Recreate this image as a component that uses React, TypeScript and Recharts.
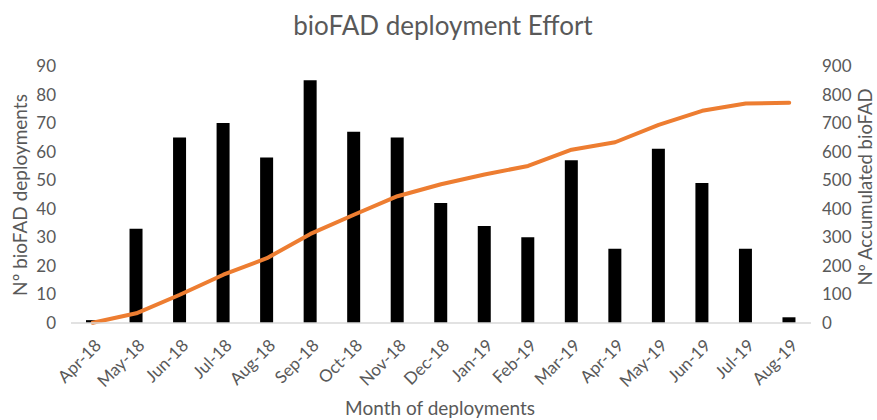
import React from "react";
import { ComposedChart, Bar, Line, XAxis, YAxis } from "recharts";

const months = ["Apr-18","May-18","Jun-18","Jul-18","Aug-18","Sep-18","Oct-18","Nov-18","Dec-18","Jan-19","Feb-19","Mar-19","Apr-19","May-19","Jun-19","Jul-19","Aug-19"];
const deployments = [1,33,65,70,58,85,67,65,42,34,30,57,26,61,49,26,2];
const accumulated = [1,34,99,169,227,312,379,444,486,520,550,607,633,694,743,769,771];
const leftTicks = [0,10,20,30,40,50,60,70,80,90];
const rightTicks = [0,100,200,300,400,500,600,700,800,900];

const data = months.map((m, i) => ({ month: m, dep: deployments[i], acc: accumulated[i] }));

const FONT = "Lato, 'Open Sans', sans-serif";
const GRAY = "#595959";

const XTick = (props: any) => {
  const { x, y, payload } = props;
  return (
    <g transform={`translate(${x + 6},${y + 12})`}>
      <text x={0} y={0} textAnchor="end" transform="rotate(-45)" fill={GRAY} fontSize={17} fontFamily={FONT} dy={5}>
        {payload.value}
      </text>
    </g>
  );
};

export default function App() {
  return (
    <div style={{ position: "absolute", left: 0, top: 0, width: 877, height: 420, background: "#fff" }}>
      <div style={{ position: "absolute", left: 0, top: 0 }}>
        <ComposedChart width={877} height={420} data={data} margin={{ top: 66, right: 0, bottom: 0, left: 0 }} barCategoryGap={0}>
          <XAxis dataKey="month" height={97} interval={0} tick={<XTick />} tickLine={false} axisLine={{ stroke: "#d9d9d9", strokeWidth: 1.5 }} />
          <YAxis yAxisId="left" width={71} domain={[0, 90]} ticks={leftTicks} interval={0} tickLine={false} axisLine={false} tickMargin={9}
            tick={{ fill: GRAY, fontSize: 17, fontFamily: FONT }} />
          <YAxis yAxisId="right" orientation="right" width={66} domain={[0, 900]} ticks={rightTicks} interval={0} tickLine={false} axisLine={false} tickMargin={5}
            tick={{ fill: GRAY, fontSize: 17, fontFamily: FONT, textAnchor: "start" }} />
          <Bar yAxisId="left" dataKey="dep" fill="#000000" barSize={13} isAnimationActive={false} />
          <Line yAxisId="right" dataKey="acc" type="linear" stroke="#ED7D31" strokeWidth={4} dot={false} strokeLinejoin="round" strokeLinecap="round" isAnimationActive={false} />
        </ComposedChart>
      </div>
      <svg width={877} height={420} style={{ position: "absolute", left: 0, top: 0, pointerEvents: "none" }}>
        <text x={443} y={35} textAnchor="middle" fontSize={26} fill={GRAY} fontFamily={FONT}>bioFAD deployment Effort</text>
        <text x={440} y={415} textAnchor="middle" fontSize={19} fill={GRAY} fontFamily={FONT}>Month of deployments</text>
        <text transform="translate(27,195) rotate(-90)" textAnchor="middle" fontSize={19} fill={GRAY} fontFamily={FONT}>Nº bioFAD deployments</text>
        <text transform="translate(872,187) rotate(-90)" textAnchor="middle" fontSize={18.5} fill={GRAY} fontFamily={FONT}>Nº Accumulated bioFAD</text>
      </svg>
    </div>
  );
}
